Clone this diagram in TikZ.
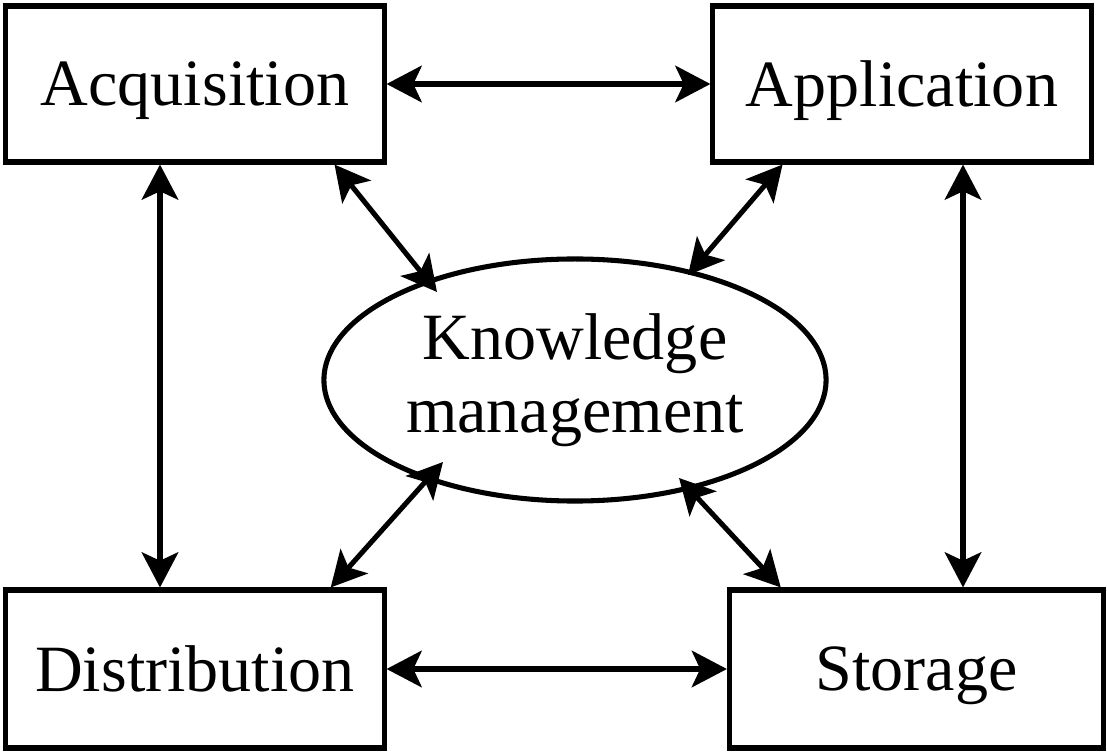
\documentclass[tikz,border=0pt]{standalone}
\usepackage{fontspec}
\setmainfont{Liberation Serif}
\usetikzlibrary{shapes.geometric,arrows.meta}
\tikzset{
    box/.style={draw, line width=3.6pt, inner sep=0pt, text depth=0pt, font=\fontsize{47}{52}\selectfont},
    oval/.style={draw, ellipse, line width=3.6pt, inner sep=0pt, align=center, font=\fontsize{47}{52}\selectfont},
    link/.style={{Stealth[length=25pt,width=26pt,inset=6pt]}-{Stealth[length=25pt,width=26pt,inset=6pt]}, line width=3.6pt}
}
\begin{document}
\begin{tikzpicture}[x=0.025cm,y=-0.025cm]
    \useasboundingbox (0,0) rectangle (1107,754);
    \node[box, minimum width=9.45cm, minimum height=3.9cm] (acq) at (195,84) {Acquisition};
    \node[box, minimum width=9.45cm, minimum height=3.9cm] (app) at (902,84) {Application};
    \node[box, minimum width=9.45cm, minimum height=3.95cm] (dist) at (195,669) {Distribution};
    \node[box, minimum width=9.35cm, minimum height=3.95cm] (stor) at (916.5,669) {Storage};
    \node[oval, minimum width=12.55cm, minimum height=6.05cm] (km) at (575,380) {Knowledge\\management};
    \draw[link] (acq.east) -- (app.west);
    \draw[link] (dist.east) -- (stor.west);
    \draw[link] ([xshift=-0.875cm]acq.south) -- ([xshift=-0.875cm]acq.south |- dist.north);
    \draw[link] ([xshift=1.525cm]app.south) -- ([xshift=1.525cm]app.south |- stor.north);
    \draw[link] (acq.-30) -- ([shift={(-138,-88)}]km.center);
    \draw[link] (app.214) -- ([shift={(113,-105)}]km.center);
    \draw[link] (dist.31) -- ([shift={(-132,82)}]km.center);
    \draw[link] (stor.149) -- ([shift={(104,98)}]km.center);
\end{tikzpicture}
\end{document}
